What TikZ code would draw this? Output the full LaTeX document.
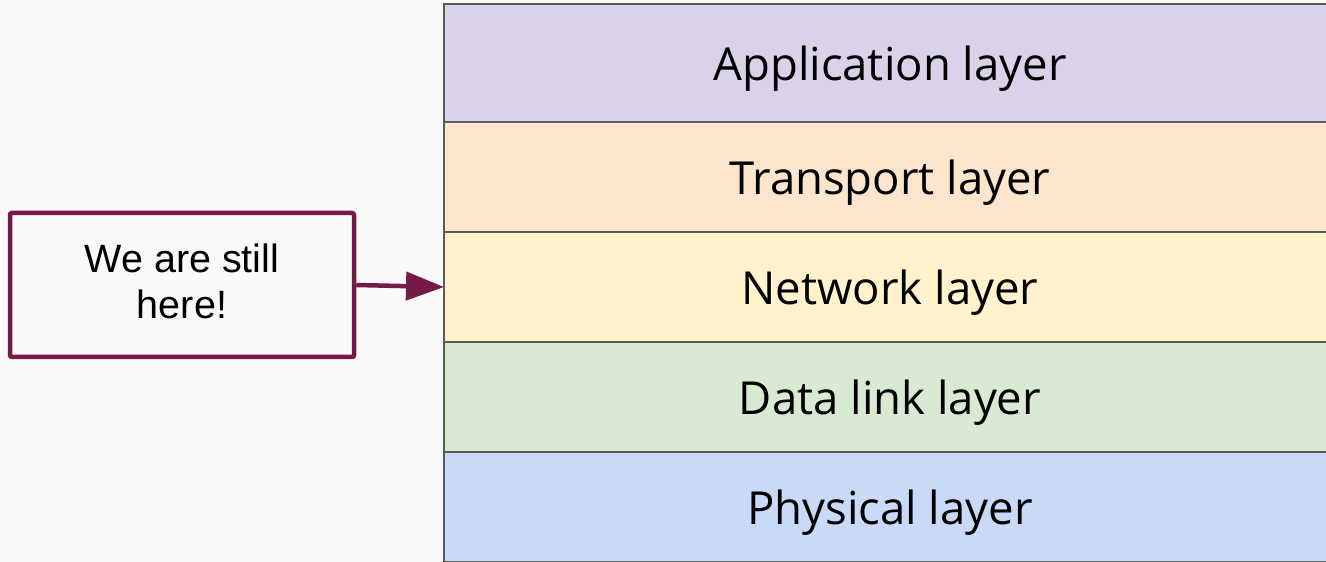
\documentclass[tikz,border=0pt]{standalone}
\usepackage{fontspec}
\setmainfont{Liberation Sans}
\newfontfamily\layerfont{Open Sans}
\usetikzlibrary{positioning,arrows.meta}
\definecolor{pagebg}{HTML}{F9F9F9}
\definecolor{layerline}{HTML}{5A5A5A}
\definecolor{appfill}{HTML}{D9D2E9}
\definecolor{transfill}{HTML}{FCE5CD}
\definecolor{netfill}{HTML}{FFF2CC}
\definecolor{linkfill}{HTML}{D9EAD3}
\definecolor{physfill}{HTML}{C9DAF8}
\definecolor{notecol}{HTML}{741B47}
\tikzset{
  layer/.style={draw=layerline,line width=2.8bp,minimum width=892bp,minimum height=110bp,
    inner sep=0pt,outer sep=0pt,text height=47bp,text depth=11bp,
    font=\layerfont\fontsize{45.5bp}{54bp}\selectfont},
  note/.style={draw=notecol,line width=4.5bp,rounded corners=2bp,fill=pagebg,minimum width=344bp,
    minimum height=144bp,align=center,font=\fontsize{39.5bp}{46bp}\selectfont},
}
\begin{document}
\begin{tikzpicture}[>={Triangle[length=38bp,width=28bp]},line join=miter]
%%
\useasboundingbox[fill=pagebg] (0bp,0bp) rectangle (1326bp,562bp);
\begin{scope}
\clip (0bp,0bp) rectangle (1326bp,562bp);
\node (app) at (890bp,499bp) [layer,fill=appfill,minimum height=118bp] {Application layer};
  \node (transport) [layer,fill=transfill,below=0bp of app] {Transport layer};
  \node (network) [layer,fill=netfill,below=0bp of transport] {Network layer};
  \node (datalink) [layer,fill=linkfill,below=0bp of network] {Data link layer};
  \node (physical) [layer,fill=physfill,below=0bp of datalink] {Physical layer};
\end{scope}
\node (here) at (182bp,277bp) [note] {We are still\\here!\rule[-8bp]{0pt}{8bp}};
  \draw [notecol,line width=4.5bp,->] (here.east) -- (network.west);
%
\end{tikzpicture}
\end{document}
